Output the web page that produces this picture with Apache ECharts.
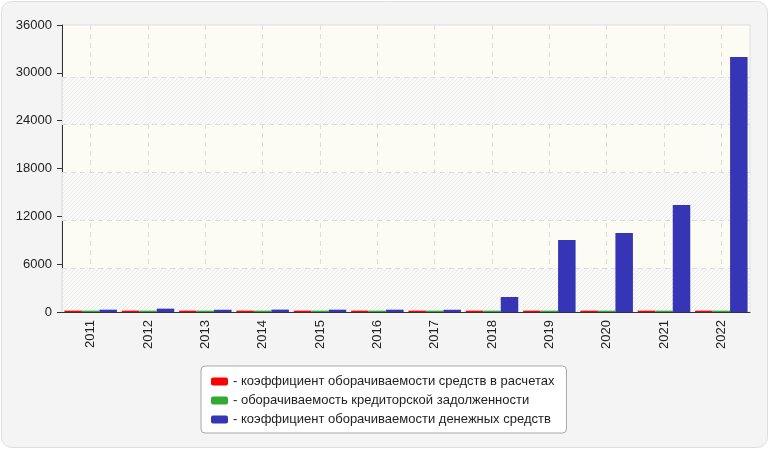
<!DOCTYPE html>
<html>
<head>
<meta charset="utf-8">
<style>
html,body{margin:0;padding:0;background:#ffffff;}
#c{width:770px;height:450px;}
</style>
<script src="https://cdn.jsdelivr.net/npm/echarts@6/dist/echarts.min.js"></script>
</head>
<body>
<div id="c"></div>
<script>
var categories = ['2011','2012','2013','2014','2015','2016','2017','2018','2019','2020','2021','2022'];
var receivablesTurnover = [170,170,170,170,170,170,170,170,170,170,170,170];
var payablesTurnover = [170,170,170,170,170,170,170,170,170,170,170,170];
var cashTurnover = [290,420,280,300,290,290,280,1880,9030,9900,13420,32000];
var seriesNames = [
  'коэффициент оборачиваемости средств в расчетах',
  'оборачиваемость кредиторской задолженности',
  'коэффициент оборачиваемости денежных средств'
];
var yTicks = {min:0, max:36000, interval:6000};
// background grid lines / bands of the reference sit slightly below the ticks
var gridLineValues = [5500, 11500, 17500, 23500, 29500];
var hatchedBands = [[0, 5500], [11500, 17500], [23500, 29500]];

function hatch(){
  var cv = document.createElement('canvas');
  cv.width = 4; cv.height = 4;
  var g = cv.getContext('2d');
  g.fillStyle = 'rgba(250,250,250,0.9)';
  g.fillRect(0,0,4,4);
  g.strokeStyle = 'rgba(205,205,205,0.35)';
  g.lineWidth = 1;
  g.beginPath();
  g.moveTo(0,4); g.lineTo(4,0);
  g.moveTo(-1,1); g.lineTo(1,-1);
  g.moveTo(3,5); g.lineTo(5,3);
  g.stroke();
  return {image: cv, repeat: 'repeat'};
}
var H = hatch();
var P = '#fcfcf5';

var font = 'Liberation Sans, Arial, sans-serif';
var chart = echarts.init(document.getElementById('c'), null, {renderer:'canvas'});
chart.setOption({
  animation: false,
  textStyle: {fontFamily: font},
  graphic: [{
    type: 'rect', z: -10, silent: true,
    shape: {x: 1.5, y: 1.5, width: 766, height: 446, r: 10},
    style: {fill: '#f4f4f4', stroke: '#dedede', lineWidth: 1}
  }],
  grid: {
    left: 62, right: 20, top: 25, bottom: 138,
    show: true, backgroundColor: P, borderColor: '#dddddd', borderWidth: 1
  },
  legend: {
    orient: 'vertical',
    left: 201, top: 366,
    padding: [9, 12, 7, 10],
    itemGap: 6,
    itemWidth: 17, itemHeight: 8,
    icon: 'roundRect',
    backgroundColor: '#ffffff',
    borderColor: '#a8a8a8', borderWidth: 1, borderRadius: 4,
    textStyle: {fontFamily: font, fontSize: 13, lineHeight: 13, color: '#222222'},
    formatter: function(n){ return '- ' + n; },
    data: seriesNames
  },
  xAxis: {
    type: 'category',
    data: categories,
    axisLine: {lineStyle: {color: '#333333'}},
    axisTick: {alignWithLabel: true, length: 5, lineStyle: {color: '#333333'}},
    axisLabel: {rotate: 90, fontFamily: font, fontSize: 13, color: '#222222', margin: 8},
    splitLine: {show: true, alignWithLabel: true, lineStyle: {color: '#dddddd', type: [5, 4]}}
  },
  yAxis: {
    type: 'value',
    min: yTicks.min, max: yTicks.max, interval: yTicks.interval,
    axisLine: {show: true, lineStyle: {color: '#333333'}},
    axisTick: {show: true, length: 5, lineStyle: {color: '#333333'}},
    axisLabel: {fontFamily: font, fontSize: 13, color: '#222222', margin: 10,
      formatter: function(v){ return String(v); }},
    splitLine: {show: false}
  },
  series: [{
    name: seriesNames[0], type: 'bar', data: receivablesTurnover,
    barWidth: 17.5, barGap: '0%', itemStyle: {color: '#ff0000'},
    markArea: {
      silent: true, z: 1,
      itemStyle: {color: H, borderWidth: 0},
      label: {show: false},
      data: hatchedBands.map(function(b){ return [{yAxis: b[0]}, {yAxis: b[1]}]; })
    },
    markLine: {
      silent: true, z: 1, symbol: ['none', 'none'],
      label: {show: false},
      lineStyle: {color: '#dddddd', type: [5, 4], width: 1},
      data: gridLineValues.map(function(v){ return {yAxis: v}; })
    }
  }, {
    name: seriesNames[1], type: 'bar', data: payablesTurnover,
    barWidth: 17.5, barGap: '0%', itemStyle: {color: '#33a833'}
  }, {
    name: seriesNames[2], type: 'bar', data: cashTurnover,
    barWidth: 17.5, barGap: '0%', itemStyle: {color: '#3535b5'}
  }]
});
</script>
</body>
</html>
